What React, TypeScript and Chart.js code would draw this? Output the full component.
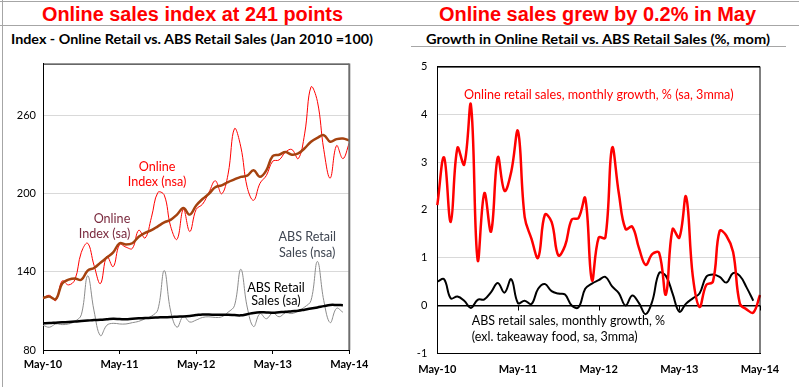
import React, { useEffect, useLayoutEffect, useRef } from 'react';
import { Chart, registerables } from 'chart.js';

Chart.register(...registerables);

// ---------- data ----------
const monthLabels = [
  'May-10', 'Jun-10', 'Jul-10', 'Aug-10', 'Sep-10', 'Oct-10', 'Nov-10', 'Dec-10', 'Jan-11', 'Feb-11', 'Mar-11', 'Apr-11',
  'May-11', 'Jun-11', 'Jul-11', 'Aug-11', 'Sep-11', 'Oct-11', 'Nov-11', 'Dec-11', 'Jan-12', 'Feb-12', 'Mar-12', 'Apr-12',
  'May-12', 'Jun-12', 'Jul-12', 'Aug-12', 'Sep-12', 'Oct-12', 'Nov-12', 'Dec-12', 'Jan-13', 'Feb-13', 'Mar-13', 'Apr-13',
  'May-13', 'Jun-13', 'Jul-13', 'Aug-13', 'Sep-13', 'Oct-13', 'Nov-13', 'Dec-13', 'Jan-14', 'Feb-14', 'Mar-14', 'Apr-14',
  'May-14',
];

const onlineIndexNsa = [
  120, 122, 118, 133, 130, 134, 155, 162, 145, 131, 152, 144,
  161, 159, 158, 172, 166, 182, 201, 199, 175, 165, 188, 171,
  188, 192, 201, 210, 200, 215, 250, 236, 205, 195, 208, 214,
  225, 226, 232, 234, 227, 246, 282, 271, 234, 212, 237, 227,
  239,
];

const onlineIndexSa = [
  120, 121, 119, 131, 134, 135, 134, 141, 143, 147, 151, 155,
  162, 161, 162, 167, 170, 172, 175, 178, 180, 184, 189, 184,
  191, 196, 200, 205, 206.5, 209, 211, 213, 214, 218, 213, 218,
  229, 230, 232, 230, 231, 235, 240, 243, 245, 240, 242, 242.5,
  241,
];

const absRetailNsa = [
  99, 97.5, 100, 99.5, 100, 102, 107, 137, 110, 91, 99, 100.5,
  100, 100, 101, 102, 104, 106, 111, 141, 110, 97.5, 106, 101.5,
  103, 105, 105.5, 105, 105.5, 109, 114, 142, 113, 98, 108, 104,
  108.5, 105.5, 108.5, 108, 110, 113, 118, 148, 118, 101, 112, 109,
];

const absRetailSa = [
  100.5, 100.7, 101, 101.3, 101.5, 101.8, 102.2, 102.6, 103, 103.2, 103.6, 104,
  103.8, 103.6, 104, 104.3, 104.5, 104.8, 105, 105.2, 105.3, 105.6, 105.8, 106.2,
  106.8, 107.3, 107.2, 107.1, 107, 107, 106.8, 106.6, 107.5, 108.5, 109, 108.8,
  108.7, 109, 109.3, 109.8, 110.2, 111, 111.8, 112.7, 113.7, 114.6, 114.6, 114.4,
];

const onlineGrowth = [
  2.1, 3.1, 1.75, 3.3, 2.95, 4.2, 0.95, 2.35, 1.55, 3.1, 2.4, 2.8,
  3.65, 1.85, 1.4, 1.0, 1.9, 1.75, 1.05, 1.25, 1.8, 1.83, 2.25, 0.53,
  1.42, 1.42, 3.3, 2.35, 1.6, 1.65, 1.2, 0.85, 1.08, 1.1, 0.23, 1.6,
  1.42, 2.28, 0.62, -0.03, 0.43, 0.5, 1.56, 1.46, 1.12, 0.04, -0.08, -0.15,
  0.22,
];

const absGrowth = [
  0.5, 0.55, 0.15, 0.19, 0.1, -0.05, 0.12, 0.13, 0.28, 0.47, 0.27, 0.55,
  0.05, 0.1, 0.03, 0.35, 0.45, 0.3, 0.25, 0.23, 0.0, -0.04, 0.35, 0.46,
  0.53, 0.6, 0.4, 0.26, 0.0, 0.21, 0.05, -0.18, 0.1, 0.68, 0.62, 0.25,
  -0.13, 0.04, 0.15, 0.25, 0.6, 0.65, 0.6, 0.48, 0.68, 0.62, 0.38, 0.1,
];

const leftYTicks = [80, 140, 200, 260];
const rightYTicks = [-1, 0, 1, 2, 3, 4, 5];

// ---------- style ----------
const FONT = 'Lato, "Noto Sans", sans-serif';
const GRID = '#d9d9d9';

function yearTicksOnly(scale: any) {
  scale.ticks = scale.ticks.filter((t: any) => t.value % 12 === 0);
}

type Note = { lines: string[]; x: number; y: number; spacing: number; color: string; align: CanvasTextAlign; size: number };

function notesPlugin(notes: Note[]) {
  return {
    id: 'notes',
    beforeDatasetsDraw(chart: any) {
      const ctx = chart.ctx as CanvasRenderingContext2D;
      const xs = chart.scales.x;
      const ys = chart.scales.y;
      ctx.save();
      for (const n of notes) {
        ctx.font = `${n.size}px ${FONT}`;
        ctx.fillStyle = n.color;
        ctx.textAlign = n.align;
        ctx.textBaseline = 'middle';
        const px = xs.getPixelForValue(n.x);
        const py = ys.getPixelForValue(n.y);
        n.lines.forEach((t, k) => ctx.fillText(t, px, py + k * n.spacing));
      }
      ctx.restore();
    },
  };
}

function framePlugin(rightColor: string, rightWidth: number, zeroTicks: boolean) {
  return {
    id: 'frame',
    afterDatasetsDraw(chart: any) {
      const { ctx, chartArea: a } = chart;
      ctx.save();
      ctx.strokeStyle = '#000';
      ctx.lineWidth = 1;
      ctx.beginPath();
      ctx.moveTo(a.left, a.top + 0.5);
      ctx.lineTo(a.right, a.top + 0.5);
      ctx.stroke();
      ctx.strokeStyle = rightColor;
      ctx.lineWidth = rightWidth;
      ctx.beginPath();
      ctx.moveTo(a.right, a.top);
      ctx.lineTo(a.right, a.bottom);
      ctx.stroke();
      if (zeroTicks) {
        const xs = chart.scales.x;
        const y0 = chart.scales.y.getPixelForValue(0);
        ctx.strokeStyle = '#000';
        ctx.lineWidth = 1;
        for (const t of xs.ticks) {
          const px = Math.round(xs.getPixelForValue(t.value)) + 0.5;
          ctx.beginPath();
          ctx.moveTo(px, y0);
          ctx.lineTo(px, y0 + 5);
          ctx.stroke();
        }
      }
      ctx.restore();
    },
  };
}

function LeftChart() {
  const ref = useRef<HTMLCanvasElement>(null);
  useEffect(() => {
    const chart = new Chart(ref.current!, {
      type: 'line',
      data: {
        labels: monthLabels,
        datasets: [
          { label: 'Online Index (sa)', data: onlineIndexSa, borderColor: '#a5420f', borderWidth: 2.5, pointRadius: 0, tension: 0.4, fill: false },
          { label: 'ABS Retail Sales (sa)', data: absRetailSa, borderColor: '#000000', borderWidth: 2.5, pointRadius: 0, tension: 0.4, fill: false },
          { label: 'Online Index (nsa)', data: onlineIndexNsa, borderColor: '#ff0000', borderWidth: 1, pointRadius: 0, tension: 0.4, fill: false },
          { label: 'ABS Retail Sales (nsa)', data: absRetailNsa, borderColor: '#8c8c8c', borderWidth: 1, pointRadius: 0, tension: 0.4, fill: false },
        ],
      },
      options: {
        responsive: false,
        animation: false,
        events: [],
        layout: { padding: { left: 0, top: 10, right: 50.7, bottom: 0 } },
        plugins: { legend: { display: false }, tooltip: { enabled: false } },
        scales: {
          x: {
            type: 'category',
            offset: false,
            afterBuildTicks: yearTicksOnly,
            afterFit: (s: any) => { s.height = 37; },
            grid: { drawOnChartArea: false, drawTicks: true, tickLength: 4, color: '#000' },
            border: { color: '#000', width: 1 },
            ticks: { autoSkip: false, maxRotation: 0, padding: 4, color: '#000', font: { family: FONT, size: 11, weight: 'bold' } },
          },
          y: {
            type: 'linear',
            min: 80,
            max: 300,
            afterBuildTicks: (s: any) => { s.ticks = leftYTicks.map((v) => ({ value: v })); },
            afterFit: (s: any) => { s.width = 43; },
            grid: { drawTicks: false, color: (c: any) => (c.tick && c.tick.value === 80 ? '#000' : GRID) },
            border: { color: '#000', width: 1 },
            ticks: { padding: 7, color: '#000', font: { family: FONT, size: 11 } },
          },
        },
      },
      plugins: [
        notesPlugin([
          { lines: ['Online', 'Index (nsa)'], x: 17.88, y: 220.5, spacing: 15, color: '#ff0000', align: 'center', size: 12.6 },
          { lines: ['Online', 'Index (sa)'], x: 13.68, y: 181, spacing: 15, color: '#7a2a3e', align: 'right', size: 12.6 },
          { lines: ['ABS Retail', 'Sales (nsa)'], x: 41.41, y: 166.6, spacing: 15.7, color: '#3f4652', align: 'center', size: 12.6 },
          { lines: ['ABS Retail', 'Sales (sa)'], x: 36.5, y: 128, spacing: 13.8, color: '#000000', align: 'center', size: 12.6 },
        ]),
        framePlugin('#6e6e6e', 2, false),
      ],
    } as any);
    return () => chart.destroy();
  }, []);
  return <canvas ref={ref} width={400} height={337} style={{ position: 'absolute', left: 0, top: 50, width: 400, height: 337 }} />;
}

function RightChart() {
  const ref = useRef<HTMLCanvasElement>(null);
  useEffect(() => {
    const chart = new Chart(ref.current!, {
      type: 'line',
      data: {
        labels: monthLabels,
        datasets: [
          { label: 'Online retail sales, monthly growth, % (sa, 3mma)', data: onlineGrowth, borderColor: '#ff0000', borderWidth: 2.5, pointRadius: 0, tension: 0.4, fill: false },
          { label: 'ABS retail sales, monthly growth, %', data: absGrowth, borderColor: '#000000', borderWidth: 2, pointRadius: 0, tension: 0.4, fill: false },
        ],
      },
      options: {
        responsive: false,
        animation: false,
        events: [],
        layout: { padding: { left: 0, top: 11, right: 39, bottom: 0 } },
        plugins: { legend: { display: false }, tooltip: { enabled: false } },
        scales: {
          x: {
            type: 'category',
            offset: false,
            afterBuildTicks: yearTicksOnly,
            afterFit: (s: any) => { s.height = 33.7; },
            grid: { drawOnChartArea: false, drawTicks: false },
            border: { color: '#000', width: 1 },
            ticks: { autoSkip: false, maxRotation: 0, padding: 10, color: '#000', font: { family: FONT, size: 11, weight: 'bold' } },
          },
          y: {
            type: 'linear',
            min: -1,
            max: 5,
            afterBuildTicks: (s: any) => { s.ticks = rightYTicks.map((v) => ({ value: v })); },
            afterFit: (s: any) => { s.width = 37.3; },
            grid: {
              drawTicks: false,
              color: (c: any) => (c.tick && (c.tick.value === 0 || c.tick.value === 5 || c.tick.value === -1) ? '#000' : GRID),
              lineWidth: (c: any) => (c.tick && c.tick.value === 0 ? 1.5 : 1),
            },
            border: { color: '#000', width: 1 },
            ticks: { padding: 10, color: '#000', font: { family: FONT, size: 11 } },
          },
        },
      },
      plugins: [
        notesPlugin([
          { lines: ['Online retail sales, monthly growth, % (sa, 3mma)'], x: 3.98, y: 4.4, spacing: 16, color: '#ff0000', align: 'left', size: 12.6 },
          { lines: ['ABS retail sales, monthly growth, %', '(exl. takeaway food, sa, 3mma)'], x: 5.13, y: -0.32, spacing: 16, color: '#000000', align: 'left', size: 12.5 },
        ]),
        framePlugin('#000', 1, true),
      ],
    } as any);
    return () => chart.destroy();
  }, []);
  return <canvas ref={ref} width={399} height={337} style={{ position: 'absolute', left: 400, top: 50, width: 399, height: 337 }} />;
}

function FitText(props: { text: string; left: number; top: number; width: number; font: string; color: string; lineHeight: string }) {
  const ref = useRef<HTMLDivElement>(null);
  useLayoutEffect(() => {
    const el = ref.current;
    if (!el) return;
    const fit = () => {
      el.style.transform = 'none';
      const w = el.getBoundingClientRect().width;
      if (w > 0) el.style.transform = `scaleX(${props.width / w})`;
    };
    fit();
    if ((document as any).fonts && (document as any).fonts.ready) (document as any).fonts.ready.then(fit);
  }, [props.text, props.width]);
  return (
    <div
      ref={ref}
      style={{
        position: 'absolute', left: props.left, top: props.top, whiteSpace: 'nowrap', font: props.font,
        color: props.color, lineHeight: props.lineHeight, transformOrigin: '0 0',
      }}
    >
      {props.text}
    </div>
  );
}

function Line(p: { left: number; top: number; width: number; height: number; color: string }) {
  return <div style={{ position: 'absolute', left: p.left, top: p.top, width: p.width, height: p.height, background: p.color }} />;
}

export default function App() {
  return (
    <div style={{ position: 'absolute', left: 0, top: 0, width: 799, height: 387, background: '#fff', overflow: 'hidden' }}>
      <Line left={0} top={1} width={799} height={1} color="#a6a6a6" />
      <Line left={0} top={25} width={799} height={1} color="#a6a6a6" />
      <Line left={2} top={0} width={1} height={387} color="#a6a6a6" />
      <Line left={411} top={46} width={375} height={1} color="#a6a6a6" />
      <FitText text="Online sales index at 241 points" left={42} top={3.8} width={301} font={`bold 20px "Liberation Sans", Arial, sans-serif`} color="#ff0000" lineHeight="20px" />
      <FitText text="Online sales grew by 0.2% in May" left={439} top={3.8} width={317} font={`bold 20px "Liberation Sans", Arial, sans-serif`} color="#ff0000" lineHeight="20px" />
      <FitText text="Index - Online Retail vs. ABS Retail Sales (Jan 2010 =100)" left={11} top={32} width={362} font={`bold 14px ${FONT}`} color="#000" lineHeight="14px" />
      <FitText text="Growth in Online Retail vs. ABS Retail Sales (%, mom)" left={426} top={32} width={344} font={`bold 14px ${FONT}`} color="#000" lineHeight="14px" />
      <LeftChart />
      <RightChart />
    </div>
  );
}
